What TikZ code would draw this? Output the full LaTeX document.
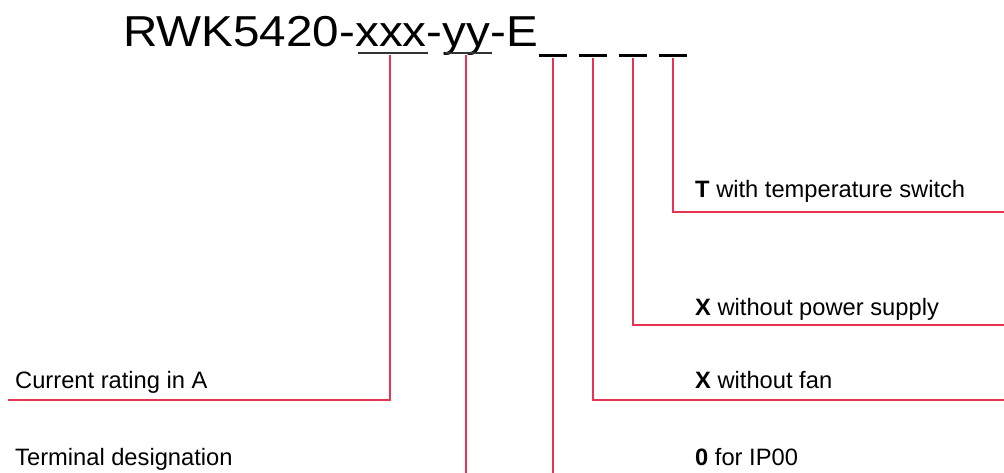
\documentclass[tikz,border=0pt]{standalone}
\usepackage{fontspec}
\setmainfont{Liberation Sans}
\newfontfamily\titlefont[FakeStretch=1.1]{Liberation Sans}
\definecolor{leadred}{RGB}{232,50,82}

\begin{document}
\begin{tikzpicture}[x=1pt, y=-1pt,
		leadline/.style={draw=leadred, line width=1.5pt},
		underbar/.style={draw=black!80, line width=2pt},
		labeltext/.style={anchor=base west, inner sep=0pt, font=\fontsize{23.7}{28}\selectfont},
		dashbar/.style={fill=black, minimum width=28pt, minimum height=3pt, inner sep=0pt}]
		\useasboundingbox (0,0) rectangle (1004,473);
		
		\node[anchor=base west, inner sep=0pt, font=\titlefont\fontsize{43.3}{50}\selectfont]	(code) at (123,47)	{RWK5420-xxx-yy-E};
		\draw[underbar] (358,53) -- (428,53);
		\draw[underbar] (445,53) -- (492,53);
		
		\node[dashbar]	(d1) at (553,56)	{};
		\node[dashbar]	(d2) at (593,56)	{};
		\node[dashbar]	(d3) at (633,56)	{};
		\node[dashbar]	(d4) at (673,56)	{};
		
		\node[labeltext]	(current) at (15,388)	{Current rating in A};
		\node[labeltext]	(terminal) at (15,465)	{Terminal designation};
		\node[labeltext]	(temp) at (695,198)	{\textbf{T} with temperature switch};
		\node[labeltext]	(supply) at (695,315)	{\textbf{X} without power supply};
		\node[labeltext]	(fan) at (695,388)	{\textbf{X} without fan};
		\node[labeltext]	(ip) at (695,465)	{\textbf{0} for IP00};
		
		\coordinate (xxx) at (390,55);
		\coordinate (yy) at (466,55);
		\coordinate (xxxend) at (8,400);
		\coordinate (yyend) at (466,473);
		\coordinate (d1end) at (553,473);
		\coordinate (d2end) at (1004,400);
		\coordinate (d3end) at (1004,325);
		\coordinate (d4end) at (1004,212);
		
		\draw[leadline] (xxx) |- (xxxend);
		\draw[leadline] (yy) -- (yyend);
		\draw[leadline] (d1.south) -- (d1end);
		\draw[leadline] (d2.south) |- (d2end);
		\draw[leadline] (d3.south) |- (d3end);
		\draw[leadline] (d4.south) |- (d4end);
		
		\end{tikzpicture}
\end{document}
